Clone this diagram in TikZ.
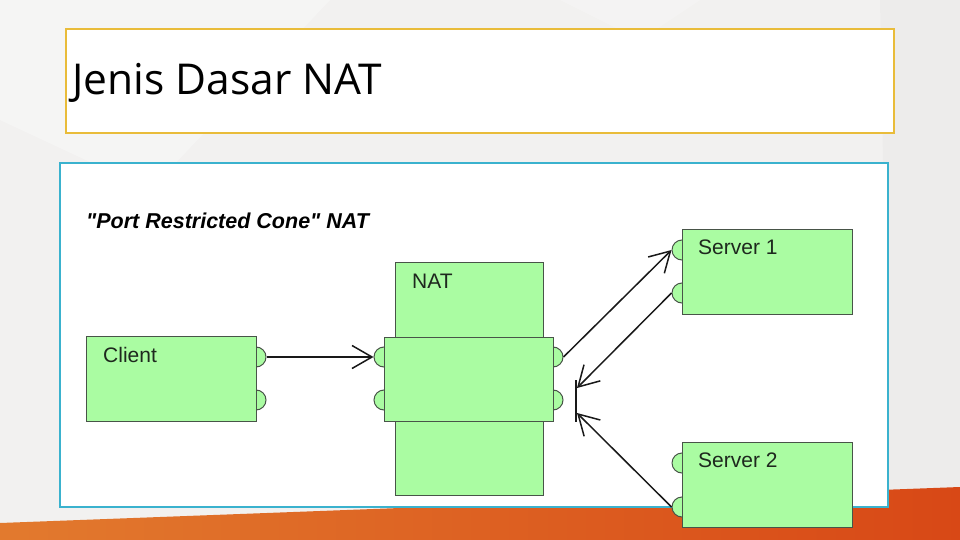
\documentclass[tikz,border=0pt]{standalone}
\usepackage{fontspec}
\setmainfont{Liberation Sans}
\newfontfamily\titlefont{Open Sans}
\newfontfamily\subfont{Liberation Sans}[Ligatures=ResetAll]
\usetikzlibrary{arrows.meta}
\definecolor{bggray}{RGB}{242,241,240}
\definecolor{orangeL}{RGB}{226,122,46}
\definecolor{orangeR}{RGB}{216,72,22}
\definecolor{titleyellow}{RGB}{233,188,58}
\definecolor{panelcyan}{RGB}{58,178,206}
\definecolor{boxgreen}{RGB}{170,252,162}
\definecolor{boxedge}{RGB}{72,84,72}
\definecolor{boxtext}{RGB}{30,40,30}
\tikzset{
  titlebox/.style={draw=titleyellow, line width=2pt, fill=white, inner sep=0pt, minimum width=828pt, minimum height=104pt},
  panel/.style={draw=panelcyan, line width=2pt, fill=white, inner sep=0pt, minimum width=828pt, minimum height=344pt},
  gbox/.style={draw=boxedge, line width=1pt, fill=boxgreen, inner sep=0pt},
  port/.style={circle, draw=boxedge, line width=1pt, fill=boxgreen, inner sep=0pt, minimum size=20pt},
  boxlabel/.style={anchor=base west, inner sep=0pt, text=boxtext, font=\fontsize{21}{25}\selectfont},
  arr/.style={draw=black!90, line width=1.5pt, -{Straight Barb[length=20pt,width=23pt,line width=1.5pt]}},
  barline/.style={draw=black!90, line width=1.6pt}
}
\begin{document}
\begin{tikzpicture}[x=1pt,y=-1pt]
\useasboundingbox (0,0) rectangle (960,540);
% background
\fill[bggray] (0,0) rectangle (960,540);
\fill[white,opacity=0.3] (0,0) -- (330,0) -- (150,190) -- (0,120) -- cycle;
\fill[white,opacity=0.2] (560,0) -- (700,0) -- (640,40) -- cycle;
\fill[black,opacity=0.02] (880,0) -- (960,0) -- (960,540) -- (890,540) -- cycle;
\shade[left color=orangeL, right color=orangeR] (0,523) -- (960,487) -- (960,540) -- (0,540) -- cycle;
% title
\node[titlebox] (titlebox) at (480,81) {};
\node[anchor=base west, inner sep=0pt, font=\titlefont\fontsize{42.5}{50}\selectfont] (title) at (72,95) {Jenis Dasar NAT};
% panel
\node[panel] (panel) at (474,335) {};
\node[anchor=base west, inner sep=0pt, font=\subfont\bfseries\itshape\fontsize{21.5}{26}\selectfont] (sub) at (86,228) {"Port Restricted Cone" NAT};
% NAT tall box
\node[gbox, minimum width=148pt, minimum height=233pt] (nat) at (469,378.5) {};
\node[boxlabel] (natlabel) at (412,288) {NAT};
% ports (drawn before their boxes so the boxes cover the inner halves)
\node[port] (cp1) at (256,357) {};
\node[port] (cp2) at (256,400) {};
\node[port] (nl1) at (384,357) {};
\node[port] (nl2) at (384,400) {};
\node[port] (nr1) at (553,357) {};
\node[port] (nr2) at (553,400) {};
\node[port] (s1p1) at (682,250) {};
\node[port] (s1p2) at (682,293) {};
\node[port] (s2p1) at (682,463) {};
\node[port] (s2p2) at (682,507) {};
% boxes
\node[gbox, minimum width=170pt, minimum height=85pt] (client) at (171,378.5) {};
\node[boxlabel] (clientlabel) at (103,362) {Client};
\node[gbox, minimum width=169pt, minimum height=84pt] (natin) at (468.5,379) {};
\node[gbox, minimum width=170pt, minimum height=85pt] (server1) at (767,271.5) {};
\node[boxlabel] (s1label) at (698,254) {Server 1};
\node[gbox, minimum width=170pt, minimum height=85pt] (server2) at (767,484.5) {};
\node[boxlabel] (s2label) at (698,467) {Server 2};
% blocking bar
\coordinate (bt) at (576,380);
\coordinate (bb) at (576,422);
\coordinate (b1) at (577,388);
\coordinate (b2) at (577,413);
\draw[barline] (bt) -- (bb);
% connectors
\draw[arr] (cp1.east) -- (nl1.west);
\draw[arr] (nr1.east) -- (s1p1.west);
\draw[arr] (s1p2.west) -- (b1);
\draw[arr] (s2p2.west) -- (b2);
\end{tikzpicture}
\end{document}
